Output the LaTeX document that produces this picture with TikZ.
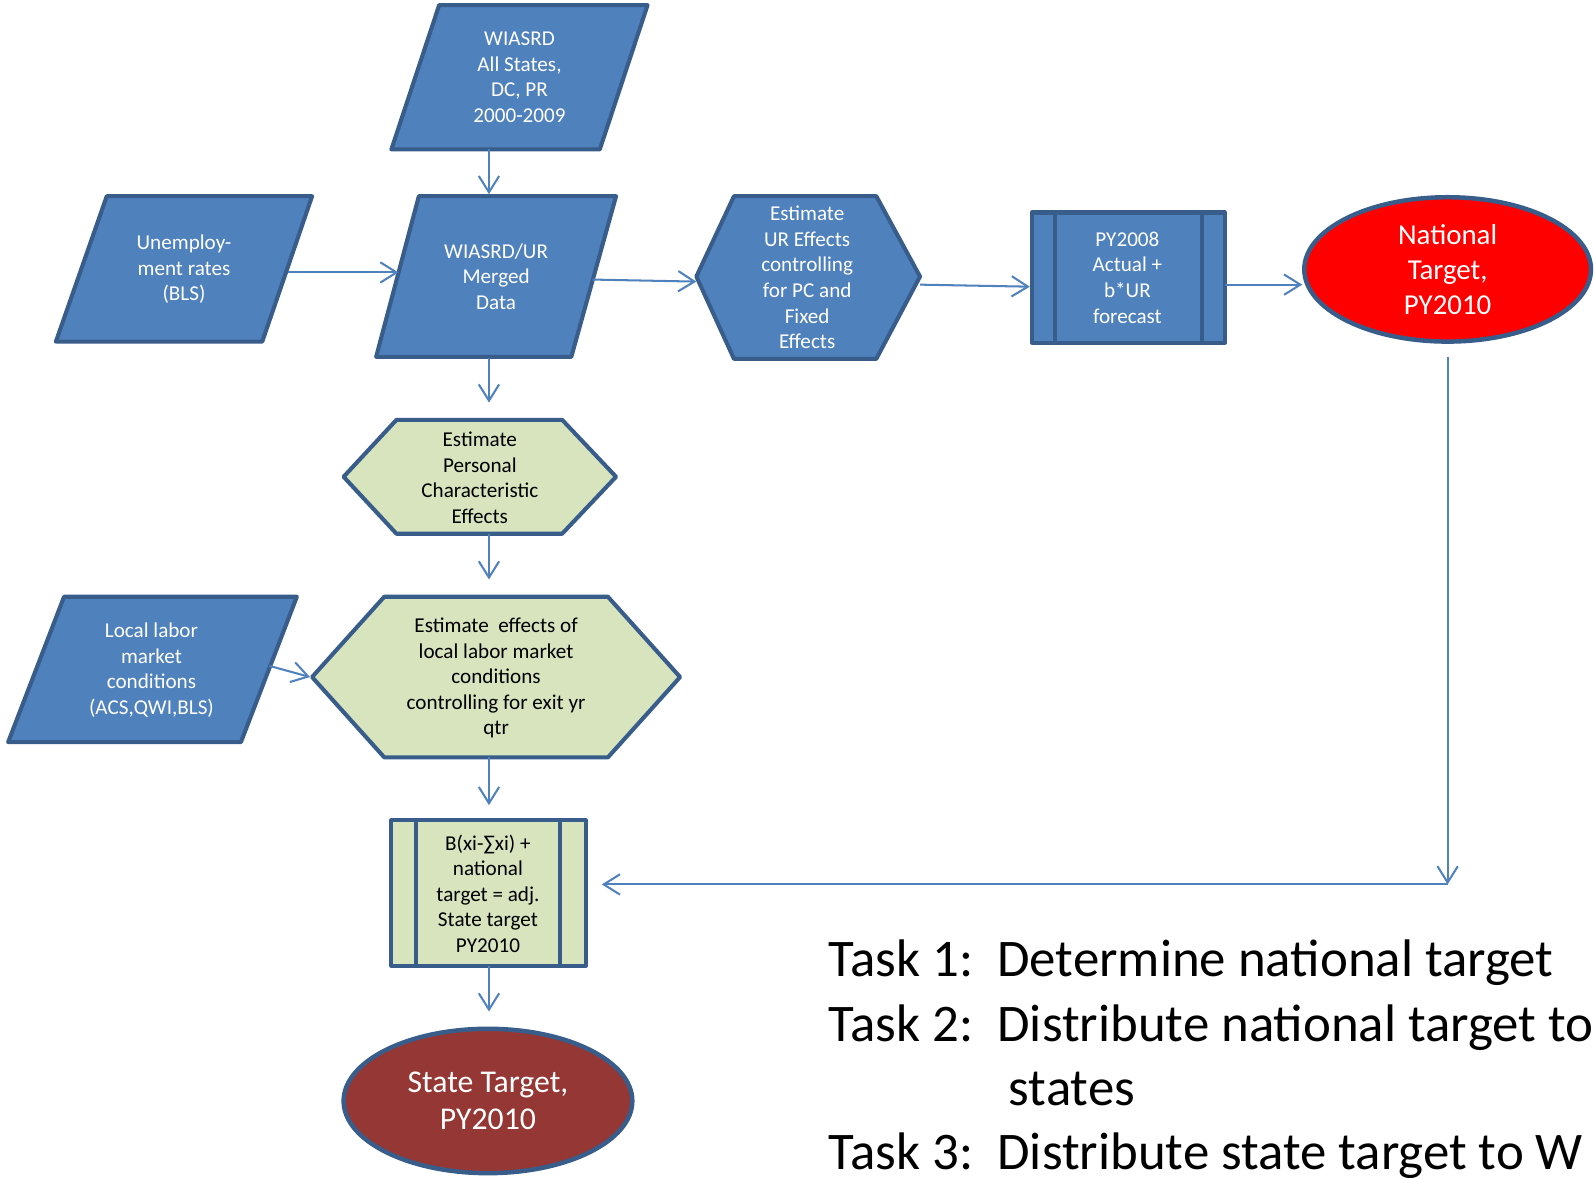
\documentclass[tikz,border=0pt]{standalone}
\usepackage{fontspec}
\setmainfont{Carlito}
\usetikzlibrary{arrows.meta,shapes.geometric}
\definecolor{bfill}{RGB}{79,129,189}
\definecolor{bline}{RGB}{56,93,138}
\definecolor{gfill}{RGB}{215,228,189}
\definecolor{rfill}{RGB}{255,0,0}
\definecolor{dred}{RGB}{149,55,53}
\begin{document}
\begin{tikzpicture}[x=0.5pt,y=-0.5pt,
  shapeb/.style={fill=bfill,draw=bline,line width=2pt,line join=round},
  shapeg/.style={fill=gfill,draw=bline,line width=2pt,line join=round},
  wtxt/.style={text=white,align=center,inner sep=0pt,font=\fontsize{10.4}{12.6}\selectfont},
  ktxt/.style={text=black,align=center,inner sep=0pt,font=\fontsize{10.4}{12.6}\selectfont},
  arr/.style={draw=bfill,line width=1pt,-{Straight Barb[length=8pt,width=10pt]}},
  oval/.style={ellipse,draw=bline,line width=2.2pt,inner sep=0pt,text=white,align=center},
  task/.style={anchor=base west,inner sep=0pt,font=\fontsize{26}{31.5}\selectfont}
  ]
\fill[white] (0,0) rectangle (1568,1158);
\useasboundingbox (0,0) rectangle (1568,1158);

% WIASRD
\path[shapeb] (432,5) -- (637,5) -- (590,147) -- (385,147) -- cycle;
\node[wtxt] (wiasrd) at (511,76) {WIASRD\\All States,\\DC, PR\\2000-2009};
% Unemployment
\path[shapeb] (105,193) -- (307,193) -- (258,336) -- (55,336) -- cycle;
\node[wtxt] (unemp) at (181,265) {Unemploy-\\ment rates\\(BLS)};
% Merged
\path[shapeb] (412,193) -- (606,193) -- (562,351) -- (370,351) -- cycle;
\node[wtxt] (merged) at (488,272) {WIASRD/UR\\Merged\\Data};
% Estimate UR hexagon
\path[shapeb] (685,272) -- (722,193) -- (862,193) -- (905,272) -- (862,353) -- (722,353) -- cycle;
\node[wtxt] (hexur) at (794,273) {Estimate\\UR Effects\\controlling\\for PC and\\Fixed\\Effects};
% PY2008 box
\path[shapeb] (1015,209) rectangle (1205,337);
\draw[bline,line width=2pt] (1038,209) -- (1038,337) (1182,209) -- (1182,337);
\node[wtxt] (py) at (1109,273) {PY2008\\Actual +\\b*UR\\forecast};
% National target
\node[oval,fill=rfill,minimum width=141pt,minimum height=71pt,font=\fontsize{14.2}{17.2}\selectfont] (nat) at (1424,265) {National\\Target,\\PY2010};
% Personal hexagon
\path[shapeg] (338,469) -- (390,413) -- (553,413) -- (606,469) -- (553,525) -- (390,525) -- cycle;
\node[ktxt] (pers) at (472,470) {Estimate\\Personal\\Characteristic\\Effects};
% Local labor
\path[shapeb] (63,587) -- (292,587) -- (237,730) -- (8,730) -- cycle;
\node[wtxt] (local) at (149,659) {Local labor\\market\\conditions\\(ACS,QWI,BLS)};
% Effects hexagon
\path[shapeg] (307,666) -- (378,587) -- (598,587) -- (669,666) -- (598,745) -- (378,745) -- cycle;
\node[ktxt] (eff) at (488,667) {Estimate\ \ effects of\\local labor market\\conditions\\controlling for exit yr\\qtr};
% B box
\path[shapeg] (385,807) rectangle (576,950);
\draw[bline,line width=2pt] (409,807) -- (409,950) (551,807) -- (551,950);
\node[ktxt] (bbox) at (480,879) {B(xi-∑xi) +\\national\\target = adj.\\State target\\PY2010};
% State target
\node[oval,fill=dred,minimum width=142pt,minimum height=71pt,font=\fontsize{15.6}{18.5}\selectfont] (state) at (480,1083) {State Target,\\PY2010};

% connector points
\coordinate (wiasrd-s) at (481,147);
\coordinate (merged-n) at (481,191);
\coordinate (unemp-e) at (283,268);
\coordinate (merged-w) at (392,268);
\coordinate (merged-e) at (583,275);
\coordinate (hexur-w) at (685,277);
\coordinate (hexur-e) at (905,280);
\coordinate (py-w) at (1013,282);
\coordinate (py-e) at (1205,280);
\coordinate (nat-w) at (1281,280);
\coordinate (merged-s) at (481,352);
\coordinate (pers-n) at (481,396);
\coordinate (pers-s) at (481,525);
\coordinate (eff-n) at (481,570);
\coordinate (local-e) at (265,655);
\coordinate (eff-w) at (305,666);
\coordinate (eff-s) at (481,745);
\coordinate (bbox-n) at (481,792);
\coordinate (bbox-s) at (481,950);
\coordinate (state-n) at (481,995);
\coordinate (nat-s) at (1424,351);
\coordinate (corner) at (1424,870);
\coordinate (bbox-e) at (592,870);

\draw[arr] (wiasrd-s) -- (merged-n);
\draw[arr] (unemp-e) -- (merged-w);
\draw[arr] (merged-e) -- (hexur-w);
\draw[arr] (hexur-e) -- (py-w);
\draw[arr] (py-e) -- (nat-w);
\draw[arr] (merged-s) -- (pers-n);
\draw[arr] (pers-s) -- (eff-n);
\draw[arr] (local-e) -- (eff-w);
\draw[arr] (eff-s) -- (bbox-n);
\draw[arr] (bbox-s) -- (state-n);
\draw[arr] (nat-s) -- (corner);
\draw[arr] (corner) -- (bbox-e);

% Tasks
\node[task] (t1) at (815,961) {Task 1:\ \ Determine national target};
\node[task] (t2) at (815,1024) {Task 2:\ \ Distribute national target to};
\node[task] (t2b) at (992,1087) {states};
\node[task] (t3) at (815,1150) {Task 3:\ \ Distribute state target to W};
\end{tikzpicture}
\end{document}
